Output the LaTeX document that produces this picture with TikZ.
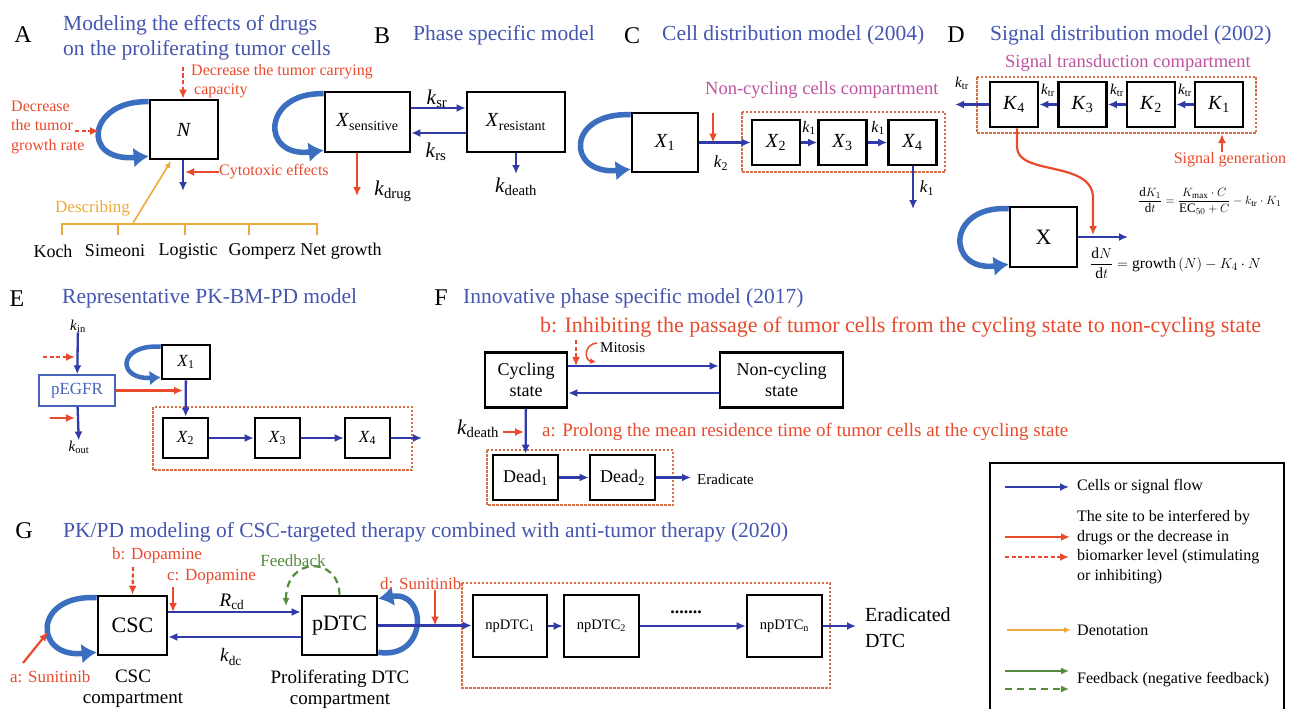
\documentclass[tikz,border=0pt]{standalone}
\usepackage{fontspec}
\setmainfont{Liberation Serif}
\usetikzlibrary{arrows.meta}
\definecolor{tblue}{RGB}{68,86,176}
\definecolor{fblue}{RGB}{48,58,168}
\definecolor{lblue}{RGB}{60,110,192}
\definecolor{ared}{RGB}{234,74,44}
\definecolor{mag}{RGB}{190,84,160}
\definecolor{orng}{RGB}{238,170,60}
\definecolor{grn}{RGB}{84,140,60}
\definecolor{dbx}{RGB}{214,110,70}
\definecolor{pbl}{RGB}{70,100,185}
\newcommand{\setfs}[2]{\fontsize{#1}{#2}\selectfont}
\newcommand{\vsub}[2]{\textit{#1}\textsubscript{#2}}
\begin{document}
\begin{tikzpicture}[x=1pt,y=-1pt,
 bx/.style={draw=black,line width=2.6pt,fill=white,inner sep=0pt,font=\setfs{20}{22}},
 flow/.style={draw=fblue,line width=2.3pt,-{Latex[length=9pt,width=8pt]}},
 redar/.style={draw=ared,line width=2.2pt,-{Latex[length=9pt,width=8pt]}},
 reddash/.style={redar,dash pattern=on 4pt off 2.5pt},
 selfl/.style={draw=lblue,line width=5.5pt,-{Latex[length=15pt,width=20pt]}},
 dbox/.style={draw=dbx,line width=1.3pt,dash pattern=on 2.5pt off 1.5pt},
 ttl/.style={text=tblue,font=\setfs{21.5}{25},anchor=west,inner sep=0pt,align=left},
 lett/.style={font=\setfs{24}{26},inner sep=0pt},
 rt/.style={text=ared,font=\setfs{16}{19.5},inner sep=0pt},
 mt/.style={text=mag,font=\setfs{18.5}{21},inner sep=0pt},
 lb/.style={font=\setfs{18}{22},inner sep=0pt},
 kl/.style={font=\setfs{21}{22},inner sep=0pt},
 legt/.style={font=\setfs{16}{19.5},inner sep=0pt,anchor=west,align=left},
 orar/.style={draw=orng,line width=1.6pt,-{Latex[length=7pt,width=6pt]}},
 grar/.style={draw=grn,line width=2.2pt,-{Latex[length=8pt,width=7pt]}}
 ]
\useasboundingbox (0,0) rectangle (1290,709);
\fill[white] (0,0) rectangle (1290,709);

% ---------------- Panel A
\node[lett] (A) at (23,35) {A};
\node[ttl] (tA) at (63,38) {Modeling the effects of drugs\\on the proliferating tumor cells};
\node[bx,minimum width=68pt,minimum height=59pt] (N) at (184,129.5) {\textit{N}};
\draw[selfl] ([yshift=-3pt]N.north west) .. controls (88,100) and (80,162) .. ([yshift=4pt]N.south west);
\coordinate (capS) at (183,67);
\draw[reddash] (capS) -- (capS |- N.north);
\node[rt,anchor=west] (capT) at (191,72) {Decrease the tumor carrying};
\node[rt,anchor=west] (capT2) at (194,91) {capacity};
\node[rt,anchor=west,align=left] (grT) at (11,127) {Decrease\\the tumor\\growth rate};
\coordinate (grS) at (75,131);
\coordinate (grE) at (99,131);
\draw[reddash] (grS) -- (grE);
\coordinate (Nout) at (183,191);
\draw[flow] (N.south -| Nout) -- (Nout);
\node[rt,anchor=west] (cyT) at (219,172) {Cytotoxic effects};
\coordinate (cyE) at (185,172);
\draw[redar] (cyT.west) -- (cyE);
\node[anchor=east,text=orng,font=\setfs{17}{20},inner sep=0pt] (dsT) at (130,208) {Describing};
\coordinate (dsS) at (133,223);
\coordinate (dsE) at (171,161);
\draw[orar] (dsS) -- (dsE);
\draw[draw=orng,line width=1.6pt] (62,235) -- (62,224) -- (317,224) -- (317,235)
  (118,224) -- (118,235) (185,224) -- (185,235) (249,224) -- (249,235);
\node[lb] (koch) at (53,251) {Koch};
\node[lb] (sim) at (115,251) {Simeoni};
\node[lb] (logi) at (188,251) {Logistic};
\node[lb] (gomp) at (262,251) {Gomperz};
\node[lb] (netg) at (341,251) {Net growth};

% ---------------- Panel B
\node[lett] (B) at (382,36) {B};
\node[ttl] (tB) at (413,35) {Phase specific model};
\node[bx,minimum width=85pt,minimum height=60pt] (Xs) at (367.5,122) {\vsub{X}{sensitive}};
\draw[selfl] ([yshift=-3pt]Xs.north west) .. controls (262,92) and (260,158) .. ([yshift=3pt]Xs.south west);
\node[bx,minimum width=98pt,minimum height=60pt] (Xr) at (516,122) {\vsub{X}{resistant}};
\draw[flow] ([yshift=14pt]Xs.east) -- ([yshift=14pt]Xr.west);
\draw[flow] ([yshift=-11pt]Xr.west) -- ([yshift=-11pt]Xs.east);
\node[kl] (ksr) at (437,99) {\vsub{k}{sr}};
\node[kl] (krs) at (436,152) {\vsub{k}{rs}};
\coordinate (kdr) at (357,196);
\draw[redar] (Xs.south -| kdr) -- (kdr);
\node[kl] (kdrug) at (393,191) {\vsub{k}{drug}};
\coordinate (kdt) at (516,174);
\draw[flow] (Xr.south) -- (kdt);
\node[kl] (kdeath) at (516,187) {\vsub{k}{death}};

% ---------------- Panel C
\node[lett] (C) at (632,36) {C};
\node[ttl] (tC) at (662,35) {Cell distribution model (2004)};
\node[mt,anchor=west] (ncT) at (705,90) {Non-cycling cells compartment};
\node[bx,minimum width=66pt,minimum height=59pt] (X1c) at (665,142.5) {\vsub{X}{1}};
\draw[selfl] ([yshift=-3pt]X1c.north west) .. controls (566,112) and (566,175) .. ([yshift=4pt]X1c.south west);
\draw[dbox] (742,112) rectangle (945,172);
\node[bx,minimum width=48pt,minimum height=45pt] (X2c) at (776,142.5) {\vsub{X}{2}};
\node[bx,minimum width=48pt,minimum height=45pt] (X3c) at (842.5,142.5) {\vsub{X}{3}};
\node[bx,minimum width=48pt,minimum height=45pt] (X4c) at (912.5,142.5) {\vsub{X}{4}};
\draw[flow] (X1c) -- (X2c);
\draw[flow] (X2c) -- (X3c);
\draw[flow] (X3c) -- (X4c);
\coordinate (rC) at (713,113);
\draw[redar] (rC) -- (rC |- X1c.center);
\node[kl,font=\setfs{17}{18}] (k2) at (721,163) {\vsub{k}{2}};
\node[kl,font=\setfs{16}{18}] (k1a) at (809,128) {\vsub{k}{1}};
\node[kl,font=\setfs{16}{18}] (k1b) at (878,128) {\vsub{k}{1}};
\coordinate (k1E) at (913,209);
\draw[flow] (X4c.south -| k1E) -- (k1E);
\node[kl,font=\setfs{17}{18}] (k1c) at (927,188) {\vsub{k}{1}};

% ---------------- Panel D
\node[lett] (D) at (956,35) {D};
\node[ttl] (tD) at (990,35) {Signal distribution model (2002)};
\node[mt,anchor=west] (stT) at (1005,63) {Signal transduction compartment};
\draw[dbox] (977,77) rectangle (1256,133);
\node[bx,minimum width=48pt,minimum height=45pt] (K4) at (1014,104.5) {\vsub{K}{4}};
\node[bx,minimum width=48pt,minimum height=45pt] (K3) at (1082.5,104.5) {\vsub{K}{3}};
\node[bx,minimum width=48pt,minimum height=45pt] (K2) at (1151,104.5) {\vsub{K}{2}};
\node[bx,minimum width=48pt,minimum height=45pt] (K1) at (1219,104.5) {\vsub{K}{1}};
\draw[flow] (K1) -- (K2);
\draw[flow] (K2) -- (K3);
\draw[flow] (K3) -- (K4);
\coordinate (K4E) at (955,104.5);
\draw[flow] (K4) -- (K4E);
\node[kl,font=\setfs{15}{16}] (ktr1) at (1185,90) {\vsub{k}{tr}};
\node[kl,font=\setfs{15}{16}] (ktr2) at (1117,90) {\vsub{k}{tr}};
\node[kl,font=\setfs{15}{16}] (ktr3) at (1048,90) {\vsub{k}{tr}};
\node[kl,font=\setfs{15}{16}] (ktr4) at (962,83) {\vsub{k}{tr}};
\coordinate (sgS) at (1222,152);
\coordinate (sgE) at (1222,134);
\draw[redar] (sgS) -- (sgE);
\node[rt] (sgT) at (1230,160) {Signal generation};
\node[bx,minimum width=67pt,minimum height=60pt,font=\setfs{22}{24}] (Xd) at (1043.5,237) {X};
\draw[selfl] ([yshift=-3pt]Xd.north west) .. controls (946,205) and (946,272) .. ([yshift=4pt]Xd.south west);
\coordinate (XdE) at (1128,237);
\draw[flow] (Xd.east) -- (XdE);
\coordinate (sigE) at (1093,235);
\draw[redar] ([xshift=3pt]K4.south) -- (1017,147) .. controls (1017,176) and (1093,160) .. (1093,198) -- (sigE);
\node[anchor=west,inner sep=0pt,font=\setfs{13}{15}] (eq1) at (1138,201)
  {$\displaystyle\frac{\mathrm{d}K_1}{\mathrm{d}t}=\frac{K_{\mathrm{max}}\cdot C}{\mathrm{EC}_{50}+C}-k_{\mathrm{tr}}\cdot K_1$};
\node[anchor=west,inner sep=0pt,font=\setfs{15.5}{17}] (eq2) at (1090,263)
  {$\displaystyle\frac{\mathrm{d}N}{\mathrm{d}t}=\mathrm{growth}\left(N\right)-K_4\cdot N$};

% ---------------- Panel E
\node[lett] (E) at (17,299) {E};
\node[ttl] (tE) at (62,298) {Representative PK-BM-PD model};
\node[kl,font=\setfs{15}{16}] (kin) at (78,326) {\vsub{k}{in}};
\node[draw=pbl,line width=1.4pt,minimum width=76pt,minimum height=31pt,text=pbl,font=\setfs{17}{18},inner sep=0pt] (pe) at (77,390.5) {pEGFR};
\draw[flow] (kin) -- (pe);
\coordinate (rdS) at (43,357);
\coordinate (rdE) at (75,357);
\draw[reddash] (rdS) -- (rdE);
\coordinate (rsS) at (50,418);
\coordinate (rsE) at (75,418);
\draw[redar] (rsS) -- (rsE);
\node[kl,font=\setfs{15}{16}] (kout) at (79,447) {\vsub{k}{out}};
\draw[flow] (pe) -- (kout);
\node[bx,minimum width=48pt,minimum height=34pt,font=\setfs{17}{18}] (X1e) at (186,362) {\vsub{X}{1}};
\draw[selfl,line width=4.5pt,-{Latex[length=11pt,width=15pt]}] ([yshift=-3pt]X1e.north west) .. controls (117,344) and (117,380) .. ([yshift=3pt]X1e.south west);
\coordinate (peE) at (183,390.5);
\draw[redar] (pe.east) -- (peE);
\draw[dbox] (153,407) rectangle (412,470);
\node[bx,minimum width=45pt,minimum height=40pt,font=\setfs{17}{18}] (X2e) at (185.5,438) {\vsub{X}{2}};
\node[bx,minimum width=45pt,minimum height=40pt,font=\setfs{17}{18}] (X3e) at (277.5,438) {\vsub{X}{3}};
\node[bx,minimum width=45pt,minimum height=40pt,font=\setfs{17}{18}] (X4e) at (367.5,438) {\vsub{X}{4}};
\draw[flow] (X1e) -- (X2e);
\draw[flow] (X2e) -- (X3e);
\draw[flow] (X3e) -- (X4e);
\coordinate (X4eE) at (422,438);
\draw[flow] (X4e) -- (X4eE);

% ---------------- Panel F
\node[lett] (F) at (441,298) {F};
\node[ttl] (tF) at (463,298) {Innovative phase specific model (2017)};
\node[rt,anchor=west,font=\setfs{22}{23}] (bT) at (540,327) {b: Inhibiting the passage of tumor cells from the cycling state to non-cycling state};
\node[bx,minimum width=82pt,minimum height=55pt,align=center,font=\setfs{18}{21}] (cyc) at (526,380) {Cycling\\state};
\node[bx,minimum width=123pt,minimum height=55pt,align=center,font=\setfs{18}{21}] (ncy) at (781.5,380) {Non-cycling\\state};
\draw[flow] ([yshift=14pt]cyc.east) -- ([yshift=14pt]ncy.west);
\draw[flow] ([yshift=-13pt]ncy.west) -- ([yshift=-13pt]cyc.east);
\path ([yshift=14pt]cyc.east) coordinate (topL);
\coordinate (mdS) at (576,340);
\draw[reddash] (mdS) -- (mdS |- topL);
\draw[draw=ared,line width=1.5pt,-{Latex[length=6pt,width=6pt]}] (597,343) .. controls (584,344) and (584,360) .. (596,362);
\node[anchor=west,inner sep=0pt,font=\setfs{15}{17}] (mit) at (600,348) {Mitosis};
\draw[dbox] (487,450) rectangle (673,505);
\node[bx,minimum width=65pt,minimum height=45pt,font=\setfs{18}{20}] (d1) at (525.5,477.5) {Dead\textsubscript{1}};
\node[bx,minimum width=65pt,minimum height=45pt,font=\setfs{18}{20}] (d2) at (622.5,477.5) {Dead\textsubscript{2}};
\draw[flow] (cyc) -- (d1);
\draw[flow] (d1) -- (d2);
\coordinate (erE) at (691,477.5);
\draw[flow] (d2) -- (erE);
\node[anchor=west,inner sep=0pt,font=\setfs{15}{17}] (erT) at (697,479) {Eradicate};
\node[kl] (kdF) at (478,429) {\vsub{k}{death}};
\coordinate (kdFS) at (503,432);
\coordinate (kdFE) at (524,432);
\draw[redar] (kdFS) -- (kdFE);
\node[rt,anchor=west,font=\setfs{19}{21}] (aT) at (542,432) {a: Prolong the mean residence time of tumor cells at the cycling state};

% ---------------- Legend
\draw[black,line width=2.8pt] (990,463) rectangle (1284,714);
\coordinate (l1a) at (1005,487); \coordinate (l1b) at (1069,487);
\draw[flow] (l1a) -- (l1b);
\node[legt] (lg1) at (1077,487) {Cells or signal flow};
\coordinate (l2a) at (1005,537); \coordinate (l2b) at (1070,537);
\draw[redar] (l2a) -- (l2b);
\coordinate (l3a) at (1005,557); \coordinate (l3b) at (1069,557);
\draw[reddash] (l3a) -- (l3b);
\node[legt] (lg2) at (1077,547) {The site to be interfered by\\drugs or the decrease in\\biomarker level (stimulating\\or inhibiting)};
\coordinate (l4a) at (1007,630); \coordinate (l4b) at (1071,630);
\draw[orar] (l4a) -- (l4b);
\node[legt] (lg3) at (1077,630) {Denotation};
\coordinate (l5a) at (1005,671); \coordinate (l5b) at (1069,671);
\draw[grar] (l5a) -- (l5b);
\coordinate (l6a) at (1005,689); \coordinate (l6b) at (1069,689);
\draw[grar,dash pattern=on 7pt off 5pt] (l6a) -- (l6b);
\node[legt] (lg4) at (1077,680) {Feedback (negative feedback)};

% ---------------- Panel G
\node[lett] (G) at (24,531) {G};
\node[ttl] (tG) at (63,532) {PK/PD modeling of CSC-targeted therapy combined with anti-tumor therapy (2020)};
\node[rt,anchor=west,font=\setfs{17}{19}] (bDo) at (112,555) {b: Dopamine};
\node[rt,anchor=west,font=\setfs{17}{19}] (cDo) at (167,577) {c: Dopamine};
\node[bx,minimum width=69pt,minimum height=59pt,font=\setfs{22}{24}] (csc) at (132.5,625.5) {CSC};
\node[bx,minimum width=75pt,minimum height=59pt,font=\setfs{22}{24}] (pdtc) at (339.5,625.5) {pDTC};
\coordinate (bDS) at (133,567);
\draw[reddash] (bDS) -- (csc.north);
\path ([yshift=13.5pt]csc.east) coordinate (rcdL);
\coordinate (cDS) at (173,587);
\draw[redar] (cDS) -- (cDS |- rcdL);
\draw[flow] ([yshift=13.5pt]csc.east) -- ([yshift=13.5pt]pdtc.west);
\draw[flow] ([yshift=-11.5pt]pdtc.west) -- ([yshift=-11.5pt]csc.east);
\node[kl,font=\setfs{19}{20}] (rcd) at (232,602) {\vsub{R}{cd}};
\node[kl,font=\setfs{19}{20}] (kdc) at (231,657) {\vsub{k}{dc}};
\draw[selfl] ([yshift=-3pt]csc.north west) .. controls (33,594) and (33,658) .. ([yshift=4pt]csc.south west);
\node[rt,anchor=west,font=\setfs{17}{19}] (aSu) at (10,677) {a: Sunitinib};
\coordinate (aSS) at (23,663);
\coordinate (aSE) at (48,632);
\draw[redar] (aSS) -- (aSE);
\draw[selfl] ([yshift=4pt]pdtc.south east) .. controls (428,660) and (428,590) .. ([yshift=-4pt]pdtc.north east);
\node[text=grn,font=\setfs{17}{19},inner sep=0pt] (fbT) at (293,561) {Feedback};
\draw[grar,dash pattern=on 7pt off 5pt,line width=2.2pt] (pdtc.north) .. controls (339,556) and (286,556) .. (286,606);
\node[rt,anchor=west,font=\setfs{17}{19}] (dSu) at (380,584) {d: Sunitinib};
\draw[dbox] (462,583) rectangle (830,688);
\node[bx,minimum width=74pt,minimum height=62pt,font=\setfs{14.5}{16}] (np1) at (510,626) {npDTC\textsubscript{1}};
\node[bx,minimum width=75pt,minimum height=62pt,font=\setfs{14.5}{16}] (np2) at (601.5,626) {npDTC\textsubscript{2}};
\node[bx,minimum width=75pt,minimum height=62pt,font=\setfs{14.5}{16}] (npn) at (784.5,626) {npDTC\textsubscript{n}};
\draw[flow] (pdtc.east) -- (pdtc.east -| np1.west);
\coordinate (dSS) at (435,590);
\draw[redar] (dSS) -- (dSS |- pdtc.east);
\draw[flow] (np1) -- (np2);
\draw[flow] (np2) -- (npn);
\node[font=\setfs{18}{20}\bfseries,inner sep=0pt] (dots) at (686,612) {.......};
\coordinate (eE) at (856,626);
\draw[flow] (npn) -- (eE);
\node[anchor=west,align=left,inner sep=0pt,font=\setfs{20}{26}] (erD) at (865,628) {Eradicated\\DTC};
\node[align=center,inner sep=0pt,font=\setfs{19}{21}] (cscL) at (133,689) {CSC\\compartment};
\node[align=center,inner sep=0pt,font=\setfs{19}{21}] (pdL) at (340,689) {Proliferating DTC\\compartment};
\end{tikzpicture}
\end{document}
